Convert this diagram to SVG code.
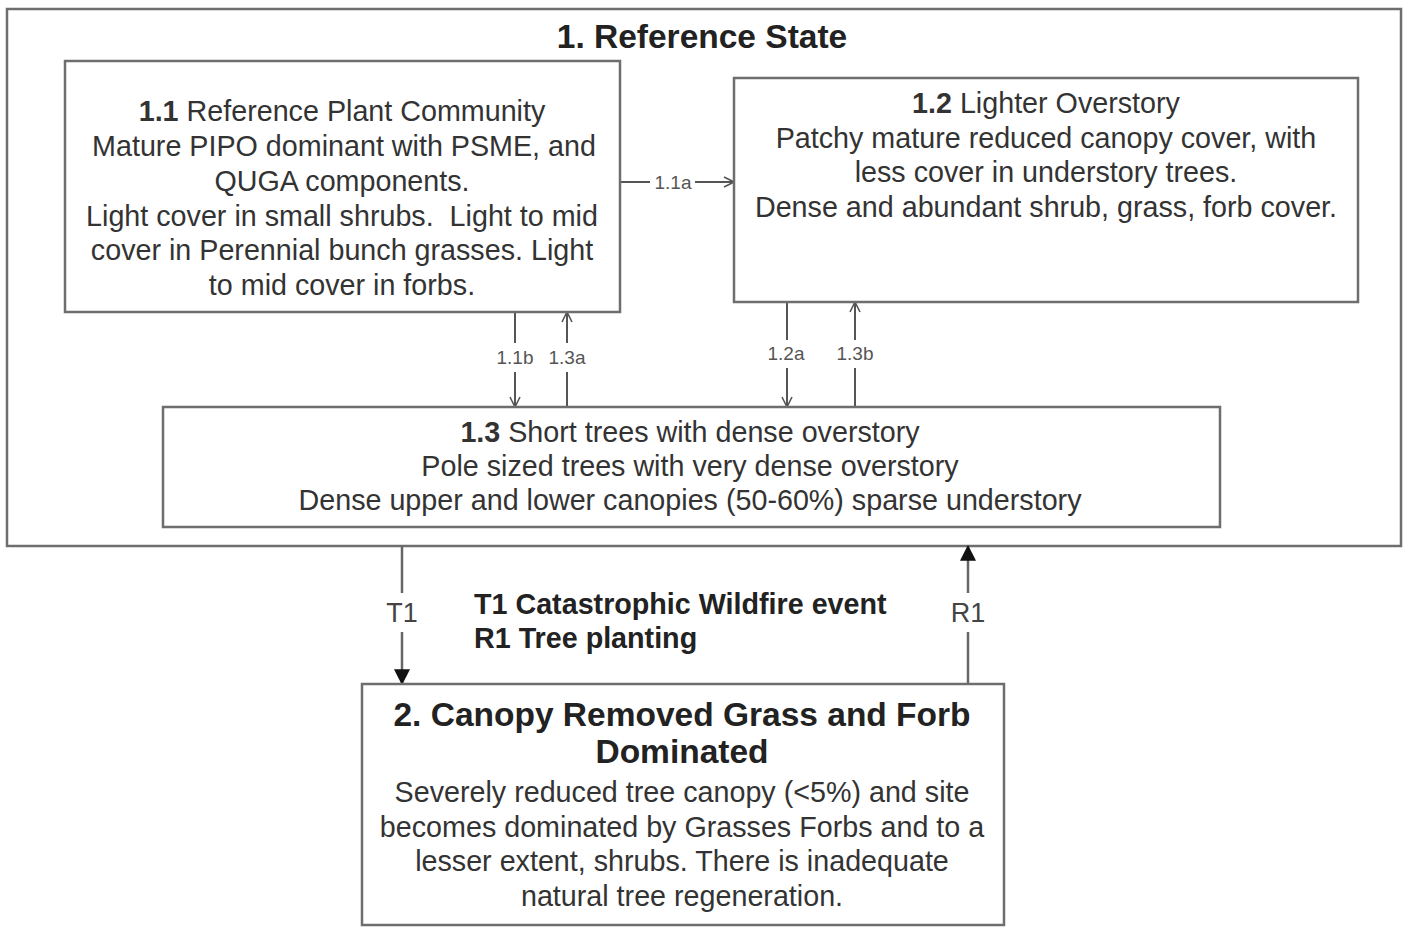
<svg xmlns="http://www.w3.org/2000/svg" width="1410" height="946" viewBox="0 0 1410 946">
<defs>
<style>
.box{fill:#fff;stroke:#6e6e6e;stroke-width:2.5}
.t{font-family:"Liberation Sans",Arial,sans-serif;fill:#333;text-anchor:middle;font-size:28.7px}
.b{font-weight:bold}
.tt{font-family:"Liberation Sans",Arial,sans-serif;fill:#222;font-weight:bold;text-anchor:middle;font-size:33.5px}
.lbl{font-family:"Liberation Sans",Arial,sans-serif;fill:#555;text-anchor:middle;font-size:19px}
.big{font-family:"Liberation Sans",Arial,sans-serif;fill:#444;text-anchor:middle;font-size:27px}
.ln{stroke:#555;stroke-width:2;fill:none}
.ln2{stroke:#666;stroke-width:2.5;fill:none}
</style>
<marker id="open" viewBox="0 0 12 12" refX="11" refY="6" markerWidth="12" markerHeight="12" markerUnits="userSpaceOnUse" orient="auto">
<path d="M1,1 L11,6 L1,11" fill="none" stroke="#555" stroke-width="1.6"/>
</marker>
<marker id="fill" viewBox="0 0 14 14" refX="13" refY="7" markerWidth="16" markerHeight="16" markerUnits="userSpaceOnUse" orient="auto">
<path d="M0,0 L14,7 L0,14 Z" fill="#111"/>
</marker>
</defs>
<rect width="1410" height="946" fill="#fff"/>

<g id="state1">
<rect class="box" x="7" y="9" width="1394" height="537"/>
<text class="tt" x="702" y="48">1. Reference State</text>
</g>

<g id="connectors">
<line class="ln" x1="620" y1="182" x2="650" y2="182"/>
<line class="ln" x1="695" y1="182" x2="734" y2="182" marker-end="url(#open)"/>
<text class="lbl" x="673" y="189">1.1a</text>

<line class="ln" x1="515" y1="312" x2="515" y2="343"/>
<line class="ln" x1="515" y1="372" x2="515" y2="407" marker-end="url(#open)"/>
<text class="lbl" x="515" y="364">1.1b</text>

<line class="ln" x1="567" y1="407" x2="567" y2="372"/>
<line class="ln" x1="567" y1="343" x2="567" y2="312" marker-end="url(#open)"/>
<text class="lbl" x="567" y="364">1.3a</text>

<line class="ln" x1="787" y1="302" x2="787" y2="340"/>
<line class="ln" x1="787" y1="368" x2="787" y2="407" marker-end="url(#open)"/>
<text class="lbl" x="786" y="360">1.2a</text>

<line class="ln" x1="855" y1="407" x2="855" y2="368"/>
<line class="ln" x1="855" y1="340" x2="855" y2="302" marker-end="url(#open)"/>
<text class="lbl" x="855" y="360">1.3b</text>

<line class="ln2" x1="402" y1="546" x2="402" y2="593"/>
<line class="ln2" x1="402" y1="632" x2="402" y2="684" marker-end="url(#fill)"/>
<text class="big" x="402" y="622">T1</text>

<line class="ln2" x1="968" y1="684" x2="968" y2="632"/>
<line class="ln2" x1="968" y1="593" x2="968" y2="546" marker-end="url(#fill)"/>
<text class="big" x="968" y="622">R1</text>
</g>

<g id="n11">
<rect class="box" x="65" y="61" width="555" height="251"/>
<text class="t" x="342" y="121"><tspan class="b">1.1</tspan> Reference Plant Community</text>
<text class="t" x="344" y="156">Mature PIPO dominant with PSME, and</text>
<text class="t" x="342" y="191">QUGA components.</text>
<text class="t" x="342" y="226" xml:space="preserve">Light cover in small shrubs.  Light to mid</text>
<text class="t" x="342" y="260">cover in Perennial bunch grasses. Light</text>
<text class="t" x="342" y="295">to mid cover in forbs.</text>
</g>

<g id="n12">
<rect class="box" x="734" y="78" width="624" height="224"/>
<text class="t" x="1046" y="113"><tspan class="b">1.2</tspan> Lighter Overstory</text>
<text class="t" x="1046" y="148">Patchy mature reduced canopy cover, with</text>
<text class="t" x="1046" y="182">less cover in understory trees.</text>
<text class="t" x="1046" y="217">Dense and abundant shrub, grass, forb cover.</text>
</g>

<g id="n13">
<rect class="box" x="163" y="407" width="1057" height="120"/>
<text class="t" x="690" y="442"><tspan class="b">1.3</tspan> Short trees with dense overstory</text>
<text class="t" x="690" y="476">Pole sized trees with very dense overstory</text>
<text class="t" x="690" y="510">Dense upper and lower canopies (50-60%) sparse understory</text>
</g>

<g id="legend">
<text class="t b" x="474" y="614" style="text-anchor:start;fill:#222">T1 Catastrophic Wildfire event</text>
<text class="t b" x="474" y="648" style="text-anchor:start;fill:#222">R1 Tree planting</text>
</g>

<g id="state2">
<rect class="box" x="362" y="684" width="642" height="241"/>
<text class="tt" x="682" y="726">2. Canopy Removed Grass and Forb</text>
<text class="tt" x="682" y="763">Dominated</text>
<text class="t" x="682" y="802">Severely reduced tree canopy (&lt;5%) and site</text>
<text class="t" x="682" y="837">becomes dominated by Grasses Forbs and to a</text>
<text class="t" x="682" y="871">lesser extent, shrubs. There is inadequate</text>
<text class="t" x="682" y="906">natural tree regeneration.</text>
</g>
</svg>
